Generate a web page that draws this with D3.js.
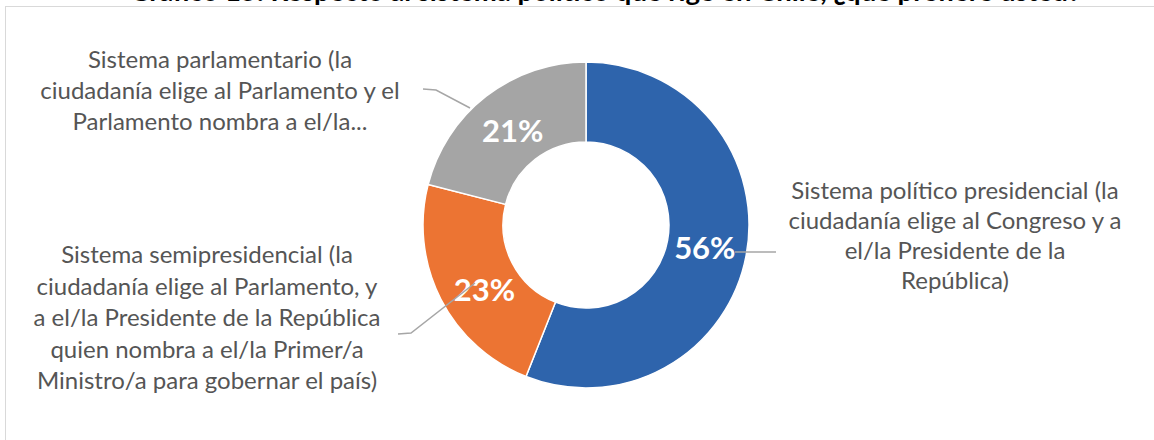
<!DOCTYPE html>
<html>
<head>
<meta charset="utf-8">
<script src="https://cdn.jsdelivr.net/npm/d3@7"></script>
<style>
  html, body { margin: 0; padding: 0; background: #fff; }
  svg { display: block; }
</style>
</head>
<body>
<svg id="chart"></svg>
<script>
// datos del gráfico
const categories = [
  'Sistema político presidencial (la ciudadanía elige al Congreso y a el/la Presidente de la República)',
  'Sistema semipresidencial (la ciudadanía elige al Parlamento, y a el/la Presidente de la República quien nombra a el/la Primer/a Ministro/a para gobernar el país)',
  'Sistema parlamentario (la ciudadanía elige al Parlamento y el Parlamento nombra a el/la...'
];
const values = [56, 23, 21];
const labelLines = [
  ['Sistema político presidencial (la', 'ciudadanía elige al Congreso y a', 'el/la Presidente de la', 'República)'],
  ['Sistema semipresidencial (la', 'ciudadanía elige al Parlamento, y', 'a el/la Presidente de la República', 'quien nombra a el/la Primer/a', 'Ministro/a para gobernar el país)'],
  ['Sistema parlamentario (la', 'ciudadanía elige al Parlamento y el', 'Parlamento nombra a el/la...']
];
const colors = ['#2E64AC', '#EC7433', '#A5A5A5'];
const title = 'Gráfico 15: Respecto al sistema político que rige en Chile, ¿qué prefiere usted?';

const width = 1154, height = 440;
const cx = 586, cy = 225, outerR = 163, innerR = 83;

// posición de las etiquetas de categoría y sus líneas guía
const labelLayout = [
  { x: 955, y: 199, lh: 30, leader: [[735, 252], [776, 252]] },
  { x: 207, y: 263, lh: 31.5, leader: [[398, 334], [411, 333], [475, 283]] },
  { x: 220, y: 68, lh: 31, leader: [[423, 89], [436, 90], [470, 108]] }
];
// ajuste fino de los porcentajes respecto al centroide
const pctShift = [[-2, 0], [8, 9], [2, 3]];

const svg = d3.select('#chart')
  .attr('width', width)
  .attr('height', height);

// marco del área del gráfico
svg.append('rect')
  .attr('x', 5.5).attr('y', 6.5)
  .attr('width', width + 10).attr('height', height + 10)
  .attr('fill', 'none')
  .attr('stroke', '#d9d9d9')
  .attr('stroke-width', 1);

// título (cortado en la parte superior)
svg.append('text')
  .attr('x', 605).attr('y', 0.5)
  .attr('text-anchor', 'middle')
  .attr('font-family', 'Lato, sans-serif')
  .attr('font-weight', 'bold')
  .attr('font-size', 27.5)
  .attr('fill', '#000')
  .text(title);

const pie = d3.pie().sort(null).value(d => d);
const arc = d3.arc().innerRadius(innerR).outerRadius(outerR);
const labelArc = d3.arc().innerRadius(123).outerRadius(123);

const g = svg.append('g').attr('transform', `translate(${cx},${cy})`);
const arcs = pie(values);

g.selectAll('path')
  .data(arcs)
  .enter()
  .append('path')
  .attr('d', arc)
  .attr('fill', (d, i) => colors[i])
  .attr('stroke', '#fff')
  .attr('stroke-width', 1.5);

// líneas guía
const line = d3.line();
svg.selectAll('.leader')
  .data(labelLayout)
  .enter()
  .append('path')
  .attr('class', 'leader')
  .attr('d', d => line(d.leader))
  .attr('fill', 'none')
  .attr('stroke', '#a6a6a6')
  .attr('stroke-width', 1.5);

// porcentajes
g.selectAll('.pct')
  .data(arcs)
  .enter()
  .append('text')
  .attr('class', 'pct')
  .attr('transform', (d, i) => {
    const c = labelArc.centroid(d);
    return `translate(${c[0] + pctShift[i][0]},${c[1] + pctShift[i][1]})`;
  })
  .attr('dy', '0.36em')
  .attr('text-anchor', 'middle')
  .attr('font-family', 'Lato, sans-serif')
  .attr('font-weight', 'bold')
  .attr('font-size', 31)
  .attr('fill', '#fff')
  .text(d => d.value + '%');

// etiquetas de categoría
labelLayout.forEach((p, i) => {
  const t = svg.append('text')
    .attr('text-anchor', 'middle')
    .attr('font-family', 'Lato, sans-serif')
    .attr('font-size', 24)
    .attr('fill', '#555555');
  t.append('title').text(categories[i]);
  labelLines[i].forEach((s, j) => {
    t.append('tspan')
      .attr('x', p.x)
      .attr('y', p.y + j * p.lh)
      .text(s);
  });
});
</script>
</body>
</html>
